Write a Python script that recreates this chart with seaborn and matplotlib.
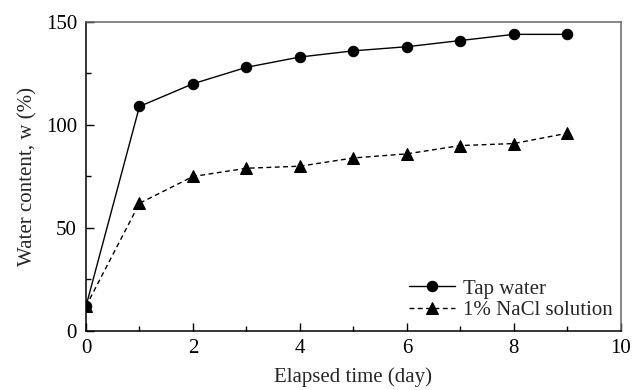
import matplotlib
matplotlib.use("Agg")
import matplotlib.pyplot as plt
import seaborn as sns
import pandas as pd
from matplotlib.ticker import MultipleLocator

# Water content measured each day of soaking
days = [0, 1, 2, 3, 4, 5, 6, 7, 8, 9]
tap_water = [12, 109, 120, 128, 133, 136, 138, 141, 144, 144]
nacl_solution = [12, 62, 75, 79, 80, 84, 86, 90, 91, 96]
series_names = ["Tap water", "1% NaCl solution"]

df = pd.concat([
    pd.DataFrame({"day": days, "w": tap_water, "fluid": series_names[0]}),
    pd.DataFrame({"day": days, "w": nacl_solution, "fluid": series_names[1]}),
])

sns.set_style("ticks")
plt.rcParams["font.family"] = ["Liberation Serif", "DejaVu Serif"]

fig = plt.figure(figsize=(6.44, 3.90), dpi=100)
ax = fig.add_axes([0.1335, 0.1513, 0.8305, 0.7923])

sns.lineplot(
    data=df, x="day", y="w", hue="fluid", style="fluid",
    palette={series_names[0]: "black", series_names[1]: "black"},
    markers={series_names[0]: "o", series_names[1]: "^"},
    dashes={series_names[0]: "", series_names[1]: (3.5, 2.5)},
    markersize=7.5, linewidth=1.0, markeredgecolor="black",
    ax=ax, legend=True,
)

# triangles a little larger than the circles
for ln in ax.lines:
    if ln.get_marker() == "^":
        ln.set_markersize(9)

ax.set_xlim(0, 10)
ax.set_ylim(0, 150)
ax.xaxis.set_major_locator(MultipleLocator(2))
ax.xaxis.set_minor_locator(MultipleLocator(1))
ax.yaxis.set_major_locator(MultipleLocator(50))
ax.yaxis.set_minor_locator(MultipleLocator(25))
ax.tick_params(which="both", direction="in", top=False, right=False,
               labelsize=15, colors="black", width=1.0)
ax.tick_params(which="major", length=6)
ax.tick_params(which="minor", length=3.5)
ax.tick_params(axis="y", which="major", pad=6.5)
ax.tick_params(axis="x", which="major", pad=5.5)

for side in ["left", "bottom"]:
    ax.spines[side].set_color("black")
    ax.spines[side].set_linewidth(1.1)
for side in ["top", "right"]:
    ax.spines[side].set_visible(True)
    ax.spines[side].set_color("#666666")
    ax.spines[side].set_linewidth(1.1)

ax.set_xlabel("Elapsed time (day)", fontsize=15, labelpad=7)
ax.set_ylabel("Water content, w (%)", fontsize=15, labelpad=6)

handles, labels = ax.get_legend_handles_labels()
for h in handles:
    if h.get_marker() == "^":
        h.set_markersize(9)
ax.legend(handles, labels, loc="lower right", bbox_to_anchor=(0.985, 0.035),
          frameon=False, fontsize=15, handlelength=2.2, handletextpad=0.4,
          labelspacing=0.1, borderaxespad=0, borderpad=0)

fig.savefig("out.png", dpi=100)
